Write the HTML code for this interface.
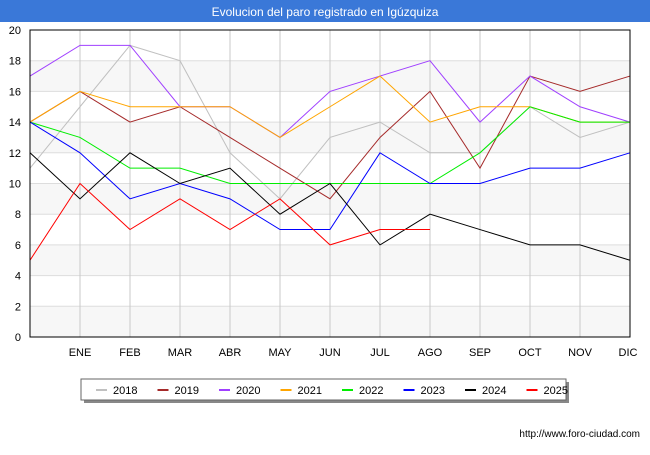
<!DOCTYPE html>
<html><head><meta charset="utf-8"><style>
body{margin:0;width:650px;height:450px;background:#fff;font-family:"Liberation Sans",sans-serif;overflow:hidden}
</style></head><body>
<svg width="650" height="450">
<rect x="0" y="0" width="650" height="22" fill="#3a78d8"/>
<text x="325" y="16" text-anchor="middle" font-size="12" fill="#fff">Evolucion del paro registrado en Igúzquiza</text>
<g id="grid"></g><g id="lines"></g>
<rect x="30" y="30" width="600" height="307" fill="none" stroke="#000"/>
<g id="ticks"></g>
<rect x="84" y="382" width="485" height="21" fill="#888"/>
<rect x="81" y="379" width="485" height="21" fill="#fff" stroke="#666"/>
<g id="legend"></g>
<text x="640" y="437" text-anchor="end" font-size="10" fill="#000">http://www.foro-ciudad.com</text>
</svg>
<script>
const months=["","ENE","FEB","MAR","ABR","MAY","JUN","JUL","AGO","SEP","OCT","NOV","DIC"];
const yTicks=[0,2,4,6,8,10,12,14,16,18,20];
const years=["2018","2019","2020","2021","2022","2023","2024","2025"];
const colors=["#c0c0c0","#a52a2a","#a040ff","#ffa500","#00ee00","#0000ff","#000000","#ff0000"];
const s2018=[11,15,19,18,12,9,13,14,12,12,15,13,14];
const s2019=[14,16,14,15,13,11,9,13,16,11,17,16,17];
const s2020=[17,19,19,15,15,13,16,17,18,14,17,15,14];
const s2021=[14,16,15,15,15,13,15,17,14,15,15,14,14];
const s2022=[14,13,11,11,10,10,10,10,10,12,15,14,14];
const s2023=[14,12,9,10,9,7,7,12,10,10,11,11,12];
const s2024=[12,9,12,10,11,8,10,6,8,7,6,6,5];
const s2025=[5,10,7,9,7,9,6,7,7];
const series=[s2018,s2019,s2020,s2021,s2022,s2023,s2024,s2025];
const NS="http://www.w3.org/2000/svg";
const X=i=>30+i*50, Y=v=>337-v*15.35;
function mk(t,a,p){const e=document.createElementNS(NS,t);for(const k in a)e.setAttribute(k,a[k]);p.appendChild(e);return e;}
const g=document.getElementById('grid'),tk=document.getElementById('ticks'),ln=document.getElementById('lines'),lg=document.getElementById('legend');
for(let i=0;i<yTicks.length-1;i++){if(i%2==0){const r=mk('rect',{x:30,y:Y(yTicks[i+1]),width:600,height:Y(yTicks[i])-Y(yTicks[i+1]),fill:'#f7f7f7'},g);

}}
yTicks.forEach(v=>{const l=mk('line',{x1:30,x2:630,y1:Y(v),y2:Y(v),stroke:'#ddd'},g);


const t=mk('text',{x:21,y:Y(v)+4,'text-anchor':'end','font-size':11},tk);t.textContent=v;

});
months.forEach((m,i)=>{if(i>0){const l=mk('line',{x1:X(i),x2:X(i),y1:30,y2:337,stroke:'#c8c8c8'},g);


const t=mk('text',{x:X(i)-(i==12?2:0),y:356,'text-anchor':'middle','font-size':11},tk);t.textContent=m;

}});
series.forEach((s,k)=>{const p=mk('polyline',{points:s.map((v,i)=>X(i)+','+Y(v)).join(' '),fill:'none',stroke:colors[k],'stroke-width':1},ln);


const lx=96+k*61.5;const l=mk('line',{x1:lx,x2:lx+11,y1:390,y2:390,stroke:colors[k],'stroke-width':2},lg);


const t=mk('text',{x:lx+17,y:394,'font-size':11},lg);t.textContent=years[k];

});
</script>
</body></html>
